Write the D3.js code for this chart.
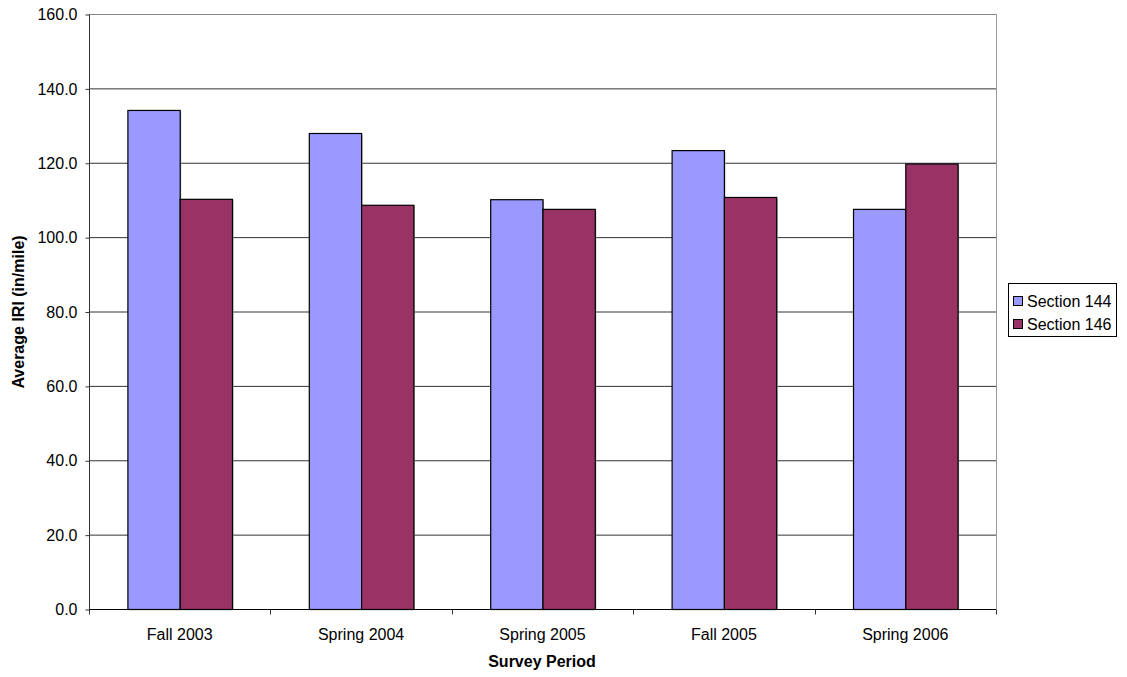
<!DOCTYPE html>
<html><head><meta charset="utf-8">
<script src="https://cdn.jsdelivr.net/npm/d3@7"></script>
<style>body{margin:0;background:#fff;} text{font-family:Arial,"Liberation Sans",sans-serif;}</style>
</head><body><svg id="c" width="1127" height="677"></svg>
<script>
const categories = ["Fall 2003","Spring 2004","Spring 2005","Fall 2005","Spring 2006"];
const seriesNames = ["Section 144","Section 146"];
const section144 = [134.2,128.0,110.2,123.4,107.6];
const section146 = [110.3,108.7,107.6,110.8,119.8];
const yTicks = [0,20,40,60,80,100,120,140,160];
const colors = ["#9999FF","#993366"];

const svg = d3.select("#c");
const m = {l:89,t:14,r:996,b:609};
const x = d3.scaleBand().domain(categories).range([m.l,m.r]);
const y = d3.scaleLinear().domain([0,160]).range([m.b,m.t]);
const inner = d3.scaleBand().domain(seriesNames).range([0,104.6]);

// gridlines
svg.append("g").selectAll("line").data(yTicks.filter(d=>d>0)).join("line")
  .attr("x1",m.l).attr("x2",m.r).attr("y1",d=>y(d)+0.5).attr("y2",d=>y(d)+0.5)
  .attr("stroke",d=>d===160?"#888":"#333").attr("stroke-width",1);
// right border
svg.append("line").attr("x1",m.r+0.5).attr("x2",m.r+0.5).attr("y1",m.t).attr("y2",m.b).attr("stroke","#999");

const data = [section144, section146];
const g = svg.append("g");
categories.forEach((c,i)=>{
  data.forEach((vals,s)=>{
    const bx = x(c)+(x.bandwidth()-104.6)/2+inner(seriesNames[s]);
    g.append("rect").attr("x",bx+1.5).attr("y",y(vals[i])+1.5).attr("width",inner.bandwidth()).attr("height",m.b-y(vals[i])-1.5)
      .attr("fill","#aaa");
    g.append("rect").attr("x",bx+0.5).attr("y",y(vals[i])+0.5).attr("width",inner.bandwidth()).attr("height",m.b-y(vals[i]))
      .attr("fill",colors[s]).attr("stroke","#000").attr("stroke-width",1.2);
  });
});

// y axis
const ya = svg.append("g").attr("transform",`translate(${m.l+0.5},0.5)`)
  .call(d3.axisLeft(y).tickValues(yTicks).tickSize(4).tickFormat(d3.format(".1f")));
ya.select(".domain").attr("stroke","#333").attr("d",`M0,${m.t}V${m.b}`);
ya.selectAll("line").attr("stroke","#333");
ya.selectAll("text").attr("font-size",16).attr("fill","#000").attr("x",-12).attr("font-family","Arial");

// x axis
const xa = svg.append("g").attr("transform",`translate(0,${m.b+0.5})`);
xa.append("line").attr("x1",m.l).attr("x2",m.r).attr("stroke","#000");
const bounds = d3.range(categories.length+1).map(i=>m.l+i*x.step());
xa.selectAll("line.t").data(bounds).join("line").attr("class","t")
  .attr("x1",d=>Math.round(d)+0.5).attr("x2",d=>Math.round(d)+0.5).attr("y1",0).attr("y2",5).attr("stroke","#333");
xa.selectAll("text").data(categories).join("text")
  .attr("x",d=>x(d)+x.bandwidth()/2).attr("y",30).attr("text-anchor","middle")
  .attr("font-size",16).text(d=>d);

// titles
svg.append("text").attr("x",542).attr("y",667).attr("text-anchor","middle").attr("font-size",16).attr("font-weight","bold").text("Survey Period");
svg.append("text").attr("transform","translate(24,312) rotate(-90)").attr("text-anchor","middle").attr("font-size",16).attr("font-weight","bold").text("Average IRI (in/mile)");

// legend
const lg = svg.append("g");
lg.append("rect").attr("x",1008.5).attr("y",283.5).attr("width",108).attr("height",53).attr("fill","#fff").attr("stroke","#000");
seriesNames.forEach((n,i)=>{
  const yy = 301+i*23;
  lg.append("rect").attr("x",1013.5).attr("y",yy-4.5).attr("width",9).attr("height",9).attr("fill",colors[i]).attr("stroke","#000");
  lg.append("text").attr("x",1027).attr("y",yy+5.5).attr("font-size",16).text(n);
});
</script></body></html>
